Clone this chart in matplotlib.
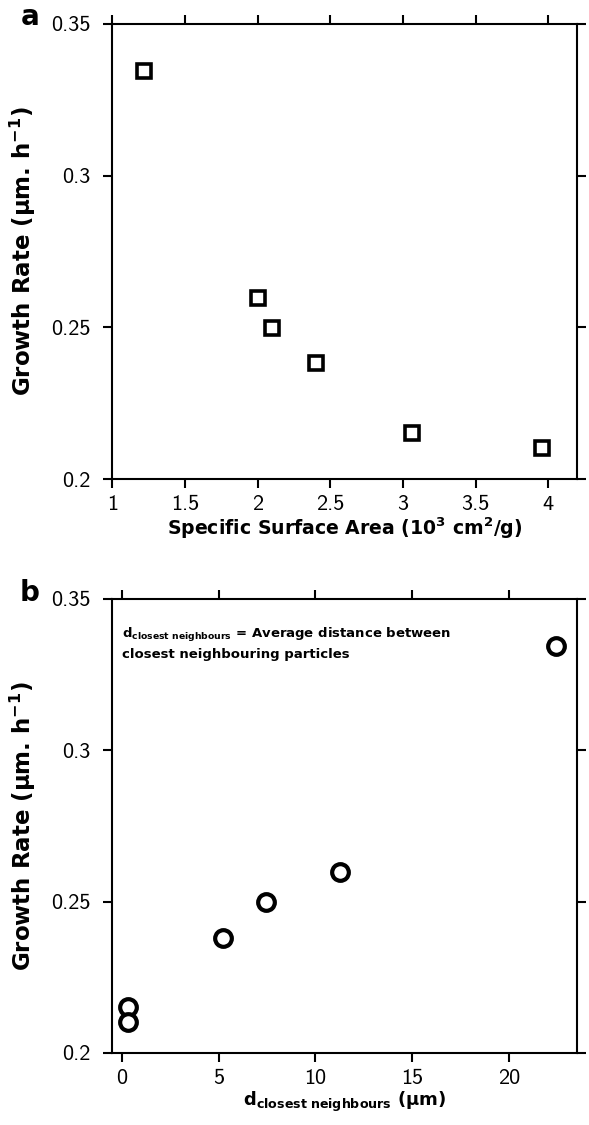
import matplotlib
matplotlib.use("Agg")
import matplotlib.pyplot as plt

# growth rate vs specific surface area (panel a) and vs particle spacing (panel b)
ssa = [1.22, 2.0, 2.1, 2.4, 3.06, 3.955]
rate_a = [0.3345, 0.2598, 0.2499, 0.2384, 0.2152, 0.2101]
spacing = [22.4, 11.26, 7.42, 5.23, 0.29, 0.29]
rate_b = [0.3345, 0.2597, 0.2499, 0.2380, 0.2152, 0.2101]

xticks_a = [1, 1.5, 2, 2.5, 3, 3.5, 4]
xticklabels_a = ['1', '1.5', '2', '2.5', '3', '3.5', '4']
xticks_b = [0, 5, 10, 15, 20]
xticklabels_b = ['0', '5', '10', '15', '20']
yticks = [0.2, 0.25, 0.3, 0.35]
yticklabels = ['0.2', '0.25', '0.3', '0.35']

plt.rcParams['mathtext.fontset'] = 'dejavusans'
plt.rcParams['mathtext.default'] = 'bf'

bold = dict(family='DejaVu Sans', fontweight='bold')
tickfont = 'cmss10'

fig = plt.figure(figsize=(5.89, 11.25), dpi=100)
ax1 = fig.add_axes([0.191, 0.5742, 0.789, 0.4045])
ax2 = fig.add_axes([0.191, 0.0640, 0.789, 0.4036])


def style_axes(ax, xticks, xticklabels):
    ax.set_ylim(0.2, 0.35)
    ax.set_xticks(xticks)
    ax.set_xticklabels(xticklabels, family=tickfont, fontsize=16)
    ax.set_yticks(yticks)
    ax.set_yticklabels(yticklabels, family=tickfont, fontsize=16)
    ax.tick_params(direction='out', length=6.5, width=1.5,
                   top=True, right=True)
    ax.tick_params(axis='x', pad=5)
    ax.tick_params(axis='y', pad=9)
    for s in ax.spines.values():
        s.set_linewidth(1.5)
    ax.set_ylabel('Growth Rate (µm. h$^{-1}$)', fontsize=16.5, **bold)
    ax.yaxis.set_label_coords(-0.16, 0.5)


ax1.plot(ssa, rate_a, linestyle='', marker='s', markersize=10.5,
         markerfacecolor='white', markeredgecolor='black', markeredgewidth=2.6)
ax1.set_xlim(1, 4.2)
style_axes(ax1, xticks_a, xticklabels_a)
ax1.set_xlabel('Specific Surface Area (10$^{3}$ cm$^{2}$/g)', fontsize=13.6, **bold)
ax1.xaxis.set_label_coords(0.5, -0.08)

ax2.plot(spacing, rate_b, linestyle='', marker='o', markersize=12,
         markerfacecolor='white', markeredgecolor='black', markeredgewidth=3)
ax2.set_xlim(-0.485, 23.52)
style_axes(ax2, xticks_b, xticklabels_b)
ax2.set_xlabel(r'$d_{closest\ neighbours}$ (µm)', fontsize=13, **bold)
ax2.xaxis.set_label_coords(0.5, -0.08)
ax2.text(0.02, 0.94, '$d_{closest\\ neighbours}$ = Average distance between\nclosest neighbouring particles',
         transform=ax2.transAxes, fontsize=9.5, va='top', ha='left',
         linespacing=1.35, **bold)

fig.text(30 / 589, 1 - 25 / 1125, 'a', fontsize=20, ha='center', va='baseline', **bold)
fig.text(30 / 589, 1 - 601 / 1125, 'b', fontsize=20, ha='center', va='baseline', **bold)

fig.savefig('out.png', dpi=100)
